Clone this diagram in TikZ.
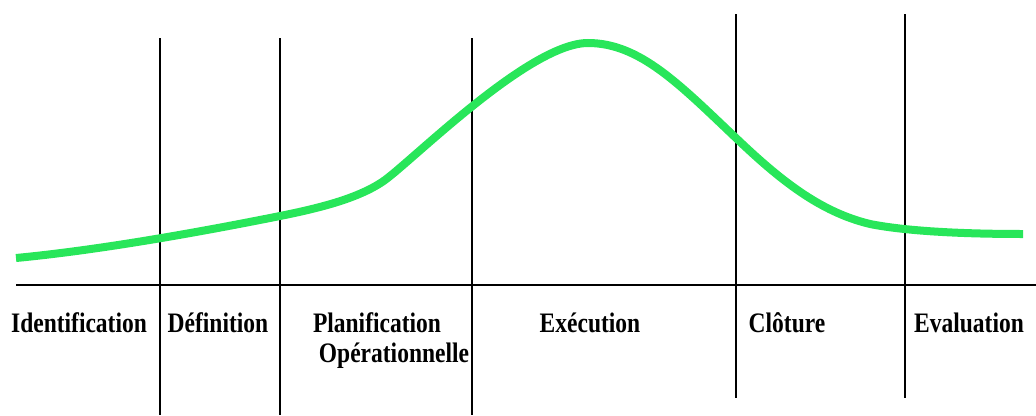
\documentclass[tikz,border=0pt]{standalone}
\usepackage{fontspec}
\setmainfont{Liberation Serif}
\usepackage{graphicx}
\definecolor{curvegreen}{RGB}{40,230,90}
\begin{document}
\begin{tikzpicture}[x=1pt,y=-1pt,
  phase/.style={anchor=base,inner sep=0pt,font=\bfseries\fontsize{23.5}{28}\selectfont},
  divider/.style={draw=black,line width=2pt},
  axis/.style={draw=black,line width=2.4pt},
  lifecurve/.style={draw=curvegreen,line width=8pt}]
\useasboundingbox (0,0) rectangle (1036,415);
% axis
\coordinate (axL) at (16,285);
\coordinate (axR) at (1036,285);
\draw[axis] (axL) -- (axR);
% dividers
\coordinate (d1t) at (160,38);  \coordinate (d1b) at (160,415);
\coordinate (d2t) at (280,38);  \coordinate (d2b) at (280,415);
\coordinate (d3t) at (472,38);  \coordinate (d3b) at (472,415);
\coordinate (d4t) at (736,14);  \coordinate (d4b) at (736,398);
\coordinate (d5t) at (905,14);  \coordinate (d5b) at (905,398);
\draw[divider] (d1t) -- (d1b);
\draw[divider] (d2t) -- (d2b);
\draw[divider] (d3t) -- (d3b);
\draw[divider] (d4t) -- (d4b);
\draw[divider] (d5t) -- (d5b);
% curve
\draw[lifecurve] (16,258) .. controls (100,250) and (200,232) .. (280,216)
  .. controls (320,208) and (360,198) .. (385,180)
  .. controls (415,158) and (530,43) .. (588,43)
  .. controls (640,43) and (680,85) .. (736,138)
  .. controls (780,180) and (820,212) .. (870,224)
  .. controls (900,230) and (950,234) .. (1023,234);
% labels
\node[phase] (identification) at (79,332) {\scalebox{1}[1.2]{Identification}};
\node[phase] (definition) at (218,332) {\scalebox{1}[1.2]{Définition}};
\node[phase] (planif) at (377,332) {\scalebox{1}[1.2]{Planification}};
\node[phase] (operation) at (394,362) {\scalebox{1}[1.2]{Opérationnelle}};
\node[phase] (execution) at (590,332) {\scalebox{1}[1.2]{Exécution}};
\node[phase] (cloture) at (787,332) {\scalebox{1}[1.2]{Clôture}};
\node[phase] (evaluation) at (969,332) {\scalebox{1}[1.2]{Evaluation}};
\end{tikzpicture}
\end{document}
